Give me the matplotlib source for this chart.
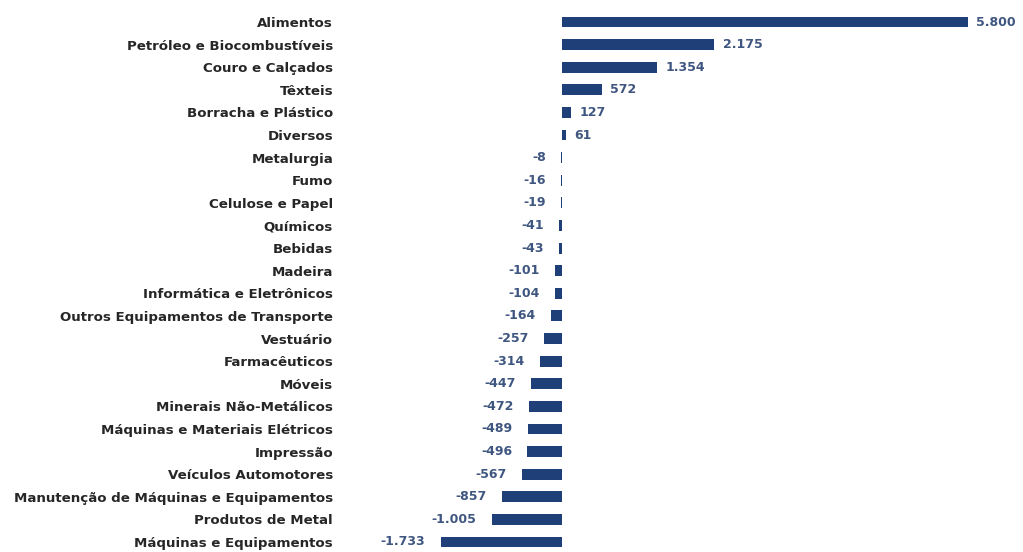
import matplotlib
matplotlib.use("Agg")
import matplotlib.pyplot as plt

categories = [
    "Alimentos", "Petróleo e Biocombustíveis", "Couro e Calçados", "Têxteis",
    "Borracha e Plástico", "Diversos", "Metalurgia", "Fumo", "Celulose e Papel",
    "Químicos", "Bebidas", "Madeira", "Informática e Eletrônicos",
    "Outros Equipamentos de Transporte", "Vestuário", "Farmacêuticos", "Móveis",
    "Minerais Não-Metálicos", "Máquinas e Materiais Elétricos", "Impressão",
    "Veículos Automotores", "Manutenção de Máquinas e Equipamentos",
    "Produtos de Metal", "Máquinas e Equipamentos",
]
values = [5800, 2175, 1354, 572, 127, 61, -8, -16, -19, -41, -43, -101, -104,
          -164, -257, -314, -447, -472, -489, -496, -567, -857, -1005, -1733]
value_labels = ["5.800", "2.175", "1.354", "572", "127", "61", "-8", "-16", "-19",
                "-41", "-43", "-101", "-104", "-164", "-257", "-314", "-447",
                "-472", "-489", "-496", "-567", "-857", "-1.005", "-1.733"]

BAR_COLOR = "#1f3f78"
VALUE_COLOR = "#3f5680"
LABEL_COLOR = "#262626"
FONT = ["DejaVu Sans"]

W, H = 1023, 552
fig = plt.figure(figsize=(W / 100, H / 100), dpi=100)
fig.patch.set_facecolor("white")

# axes spans from x=340px to the right edge; zero sits at x=562px
left_px, right_px, zero_px, scale = 340, 1023, 562, 0.0700
ax = fig.add_axes([left_px / W, -1.3 / H, (right_px - left_px) / W, 542.6 / H])
ax.set_xlim((left_px - zero_px) / scale, (right_px - zero_px) / scale)

y = list(range(len(categories)))
ax.barh(y, values, height=0.48, color=BAR_COLOR)
ax.set_ylim(len(categories) - 0.5, -0.5)

ax.set_yticks(y)
ax.set_yticklabels(categories, fontsize=9.6, fontweight="bold", color=LABEL_COLOR,
                   family=FONT)
ax.tick_params(axis="y", length=0, pad=5)
ax.set_xticks([])
for s in ax.spines.values():
    s.set_visible(False)

for yi, v, lab in zip(y, values, value_labels):
    if v >= 0:
        ax.annotate(lab, (v, yi), xytext=(6, 0), textcoords="offset points",
                    ha="left", va="center", fontsize=9, fontweight="bold",
                    color=VALUE_COLOR, family=FONT)
    else:
        ax.annotate(lab, (v, yi), xytext=(-11, 0), textcoords="offset points",
                    ha="right", va="center", fontsize=9, fontweight="bold",
                    color=VALUE_COLOR, family=FONT)

fig.savefig("out.png", dpi=100, facecolor="white")
